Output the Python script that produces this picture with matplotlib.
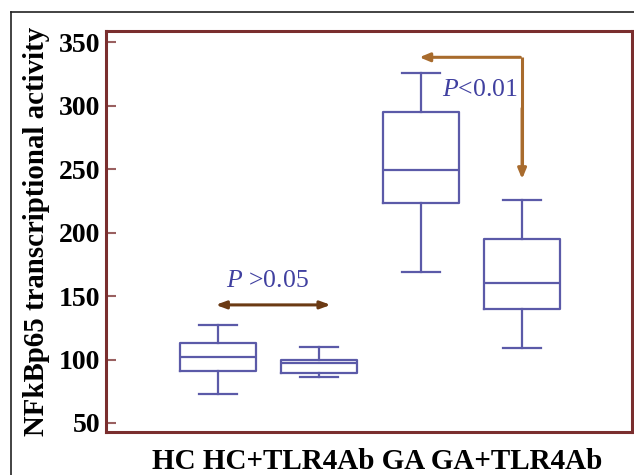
import matplotlib
matplotlib.use('Agg')
import matplotlib.pyplot as plt
from matplotlib.lines import Line2D

groups = ['HC', 'HC+TLR4Ab', 'GA', 'GA+TLR4Ab']
whisker_low = [73, 86, 169, 109]
q1 = [91, 89, 223, 140]
median = [102, 97, 249, 160]
q3 = [113, 100, 295, 195]
whisker_high = [127, 110, 326, 226]

yticks = [50, 100, 150, 200, 250, 300, 350]

box_col = '#5b5aa8'
spine_col = '#7a2e2e'
serif = ['Liberation Serif', 'DejaVu Serif']

plt.rcParams['font.family'] = serif
plt.rcParams['mathtext.fontset'] = 'custom'
plt.rcParams['mathtext.it'] = 'Liberation Serif:italic'
plt.rcParams['mathtext.rm'] = 'Liberation Serif'

fig = plt.figure(figsize=(6.34, 4.75), dpi=100)
ax = fig.add_axes([0.167, 0.0905, 0.830, 0.8442])

stats = []
for i, g in enumerate(groups):
    stats.append({'label': g, 'whislo': whisker_low[i], 'q1': q1[i], 'med': median[i],
                  'q3': q3[i], 'whishi': whisker_high[i], 'fliers': []})

pos = [1, 2, 3, 4]
ax.bxp(stats, positions=pos, widths=0.75, capwidths=0.375, showfliers=False,
       boxprops=dict(color=box_col, lw=1.6),
       whiskerprops=dict(color=box_col, lw=1.6),
       capprops=dict(color=box_col, lw=1.6),
       medianprops=dict(color=box_col, lw=1.6))

ax.set_xlim(-0.105, 5.085)
ax.set_ylim(42.9, 358.7)
ax.set_yticks(yticks)
ax.set_xticks([])
for s in ax.spines.values():
    s.set_color(spine_col)
    s.set_linewidth(2.2)
ax.tick_params(axis='y', direction='in', length=7, width=1.5, color='#9a6060', pad=4,
               labelsize=20)
for t in ax.get_yticklabels():
    t.set_fontweight('bold')

ax.set_ylabel('NFkBp65 transcriptional activity', fontsize=20.8, fontweight='bold', labelpad=6)

# top arrow GA vs GA+TLR4Ab
top_col = '#a86b2d'
ax.plot([4, 4], [338, 246], color=top_col, lw=2.2, solid_capstyle='butt')
ax.annotate('', xy=(2.96, 338), xytext=(4.01, 338),
            arrowprops=dict(arrowstyle='-|>,head_length=0.6,head_width=0.25', color=top_col, lw=2.2))
ax.annotate('', xy=(4, 240), xytext=(4, 300),
            arrowprops=dict(arrowstyle='-|>,head_length=0.6,head_width=0.25', color=top_col, lw=2.2))
ax.text(3.58, 312, r'$\it{P}$<0.01', color='#4040a0', fontsize=18.5, ha='center', va='center')

# bottom arrow HC vs HC+TLR4Ab
bot_col = '#6b3a14'
ax.annotate('', xy=(0.95, 143), xytext=(2.14, 143),
            arrowprops=dict(arrowstyle='<|-|>,head_length=0.6,head_width=0.22', color=bot_col, lw=2.2))
ax.text(1.49, 162, r'$\it{P}$ >0.05', color='#4040a0', fontsize=18.5, ha='center', va='center')

fig.text(0.595, 0.028, ' '.join(groups), fontsize=21, fontweight='bold', ha='center', va='center')

# outer frame
fig.add_artist(Line2D([11/634, 11/634], [-0.1, 1 - 12/475], color='#222222', lw=1.2))
fig.add_artist(Line2D([11/634, 1.1], [1 - 12/475, 1 - 12/475], color='#222222', lw=1.2))

fig.savefig('out.png', dpi=100)
